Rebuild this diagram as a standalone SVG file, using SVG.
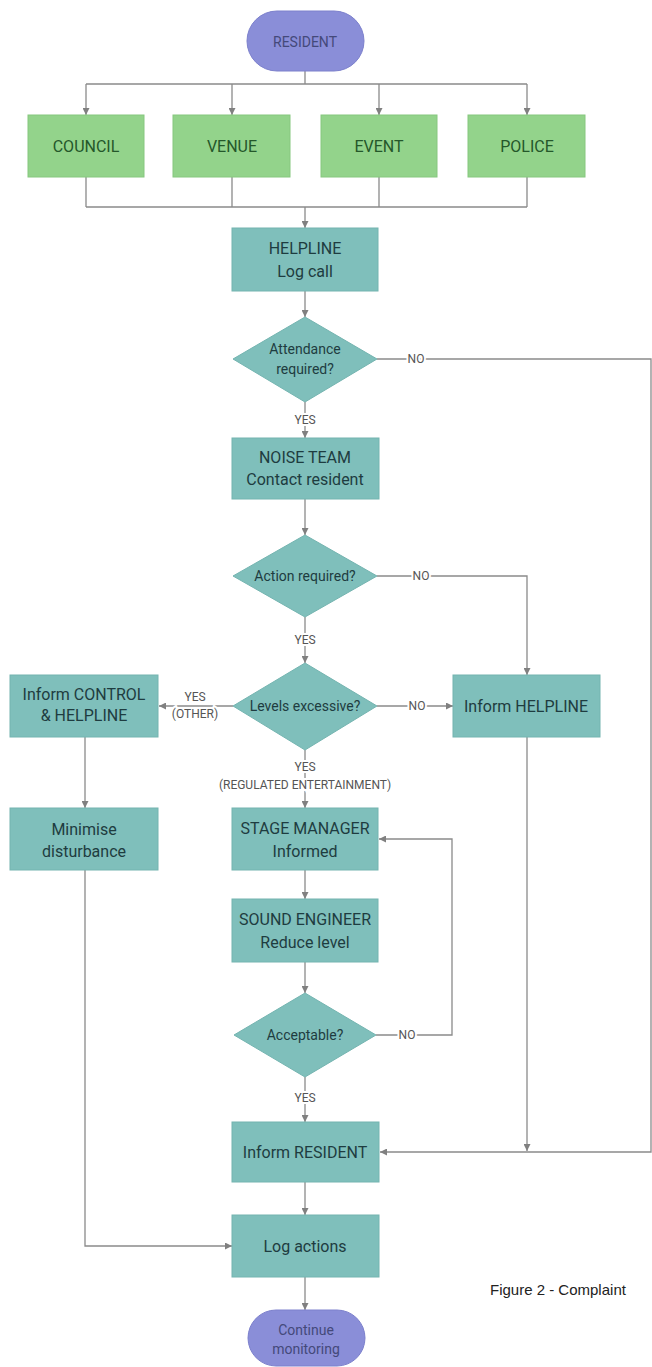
<svg xmlns="http://www.w3.org/2000/svg" width="652" height="1367" viewBox="0 0 652 1367">
<style>
.bg{fill:#ffffff}
.pill{fill:#8a8ed8;stroke:#7c80cc;stroke-width:1}
.pt{font-family:Roboto,"Liberation Sans",sans-serif;font-size:14px;fill:#44497a;text-anchor:middle;dominant-baseline:central}
.gbox{fill:#93d38b;stroke:#86c77f;stroke-width:1}
.gt{font-family:Roboto,"Liberation Sans",sans-serif;font-size:16px;fill:#24572a;text-anchor:middle;dominant-baseline:central}
.tbox{fill:#7fbfbb;stroke:#74b4b0;stroke-width:1}
.tt{font-family:Roboto,"Liberation Sans",sans-serif;font-size:16px;fill:#1e3c40;text-anchor:middle;dominant-baseline:central}
.dt{font-family:Roboto,"Liberation Sans",sans-serif;font-size:14px;fill:#1e3c40;text-anchor:middle;dominant-baseline:central}
.ln{fill:none;stroke:#8a8a8a;stroke-width:1.3}
.ar{fill:none;stroke:#8a8a8a;stroke-width:1.3;marker-end:url(#ah)}
.lb{font-family:Roboto,"Liberation Sans",sans-serif;font-size:12px;fill:#555;text-anchor:middle;dominant-baseline:central;paint-order:stroke;stroke:#fff;stroke-width:4px}
.cap{font-family:"Liberation Sans",Arial,sans-serif;font-size:15px;fill:#222}
</style>
<defs>
<marker id="ah" viewBox="0 0 10 10" refX="10" refY="5" markerWidth="7" markerHeight="7" markerUnits="userSpaceOnUse" orient="auto">
<path d="M0,0 L10,5 L0,10 z" fill="#808080"/>
</marker>
</defs>
<rect class="bg" x="0" y="0" width="652" height="1367"/>

<g id="connectors">
<path class="ln" d="M305,71 V84 M86,84 H527"/>
<path class="ar" d="M86,84 V115"/>
<path class="ar" d="M232,84 V115"/>
<path class="ar" d="M379,84 V115"/>
<path class="ar" d="M527,84 V115"/>
<path class="ln" d="M86,177 V207 M232,177 V207 M379,177 V207 M527,177 V207 M86,207 H527"/>
<path class="ar" d="M305,207 V228"/>
<path class="ar" d="M305,291 V317"/>
<path class="ar" d="M377,359 H651 V1152 H380"/>
<path class="ar" d="M305,402 V438"/>
<path class="ar" d="M305,499 V535"/>
<path class="ar" d="M377,576 H527 V675"/>
<path class="ar" d="M305,617 V663"/>
<path class="ar" d="M377,706 H453"/>
<path class="ar" d="M233,706 H159"/>
<path class="ar" d="M305,750 V808"/>
<path class="ar" d="M85,737 V808"/>
<path class="ar" d="M305,870 V899"/>
<path class="ar" d="M305,962 V993"/>
<path class="ar" d="M376,1035 H452 V839 H379"/>
<path class="ar" d="M305,1077 V1122"/>
<path class="ar" d="M527,737 V1151"/>
<path class="ar" d="M305,1182 V1215"/>
<path class="ar" d="M85,870 V1246 H232"/>
<path class="ar" d="M305,1277 V1310"/>
<text class="lb" x="416" y="359">NO</text>
<text class="lb" x="305" y="420">YES</text>
<text class="lb" x="421" y="576">NO</text>
<text class="lb" x="305" y="640">YES</text>
<text class="lb" x="417" y="706">NO</text>
<text class="lb" x="195" y="697">YES</text>
<text class="lb" x="195" y="714">(OTHER)</text>
<text class="lb" x="305" y="767">YES</text>
<text class="lb" x="305" y="785">(REGULATED ENTERTAINMENT)</text>
<text class="lb" x="407" y="1035">NO</text>
<text class="lb" x="305" y="1098">YES</text>
</g>

<g id="resident">
<rect class="pill" x="247" y="11" width="117" height="60" rx="30"/>
<text class="pt" x="305" y="42">RESIDENT</text>
</g>
<g id="council">
<rect class="gbox" x="28" y="115" width="116" height="62"/>
<text class="gt" x="86" y="146">COUNCIL</text>
</g>
<g id="venue">
<rect class="gbox" x="173" y="115" width="117" height="62"/>
<text class="gt" x="232" y="146">VENUE</text>
</g>
<g id="event">
<rect class="gbox" x="321" y="115" width="116" height="62"/>
<text class="gt" x="379" y="146">EVENT</text>
</g>
<g id="police">
<rect class="gbox" x="468" y="115" width="117" height="62"/>
<text class="gt" x="527" y="146">POLICE</text>
</g>
<g id="helpline">
<rect class="tbox" x="232" y="228" width="146" height="63"/>
<text class="tt" x="305" y="248">HELPLINE</text>
<text class="tt" x="305" y="271">Log call</text>
</g>
<g id="attendance">
<polygon class="tbox" points="305,317 377,359 305,402 233,359"/>
<text class="dt" x="305" y="349">Attendance</text>
<text class="dt" x="305" y="369">required?</text>
</g>
<g id="noise-team">
<rect class="tbox" x="232" y="438" width="147" height="61"/>
<text class="tt" x="305" y="457">NOISE TEAM</text>
<text class="tt" x="305" y="479">Contact resident</text>
</g>
<g id="action">
<polygon class="tbox" points="305,535 377,576 305,617 233,576"/>
<text class="dt" x="305" y="576">Action required?</text>
</g>
<g id="levels">
<polygon class="tbox" points="305,663 377,706 305,750 233,706"/>
<text class="dt" x="305" y="706">Levels excessive?</text>
</g>
<g id="inform-helpline">
<rect class="tbox" x="453" y="675" width="147" height="62"/>
<text class="tt" x="526" y="706">Inform HELPLINE</text>
</g>
<g id="inform-control">
<rect class="tbox" x="10" y="675" width="148" height="62"/>
<text class="tt" x="84" y="694">Inform CONTROL</text>
<text class="tt" x="84" y="715">&amp; HELPLINE</text>
</g>
<g id="minimise">
<rect class="tbox" x="10" y="808" width="148" height="62"/>
<text class="tt" x="84" y="829">Minimise</text>
<text class="tt" x="84" y="851">disturbance</text>
</g>
<g id="stage-manager">
<rect class="tbox" x="232" y="808" width="146" height="62"/>
<text class="tt" x="305" y="828">STAGE MANAGER</text>
<text class="tt" x="305" y="851">Informed</text>
</g>
<g id="sound-engineer">
<rect class="tbox" x="232" y="899" width="146" height="63"/>
<text class="tt" x="305" y="919">SOUND ENGINEER</text>
<text class="tt" x="305" y="942">Reduce level</text>
</g>
<g id="acceptable">
<polygon class="tbox" points="305,993 376,1035 305,1077 234,1035"/>
<text class="dt" x="305" y="1035">Acceptable?</text>
</g>
<g id="inform-resident">
<rect class="tbox" x="232" y="1122" width="147" height="60"/>
<text class="tt" x="305" y="1152">Inform RESIDENT</text>
</g>
<g id="log-actions">
<rect class="tbox" x="232" y="1215" width="147" height="62"/>
<text class="tt" x="305" y="1246">Log actions</text>
</g>
<g id="continue">
<rect class="pill" x="248" y="1310" width="117" height="56" rx="28"/>
<text class="pt" x="306" y="1330">Continue</text>
<text class="pt" x="306" y="1349">monitoring</text>
</g>
<g id="caption">
<text class="cap" x="490" y="1295">Figure 2 - Complaint</text>
</g>
</svg>
